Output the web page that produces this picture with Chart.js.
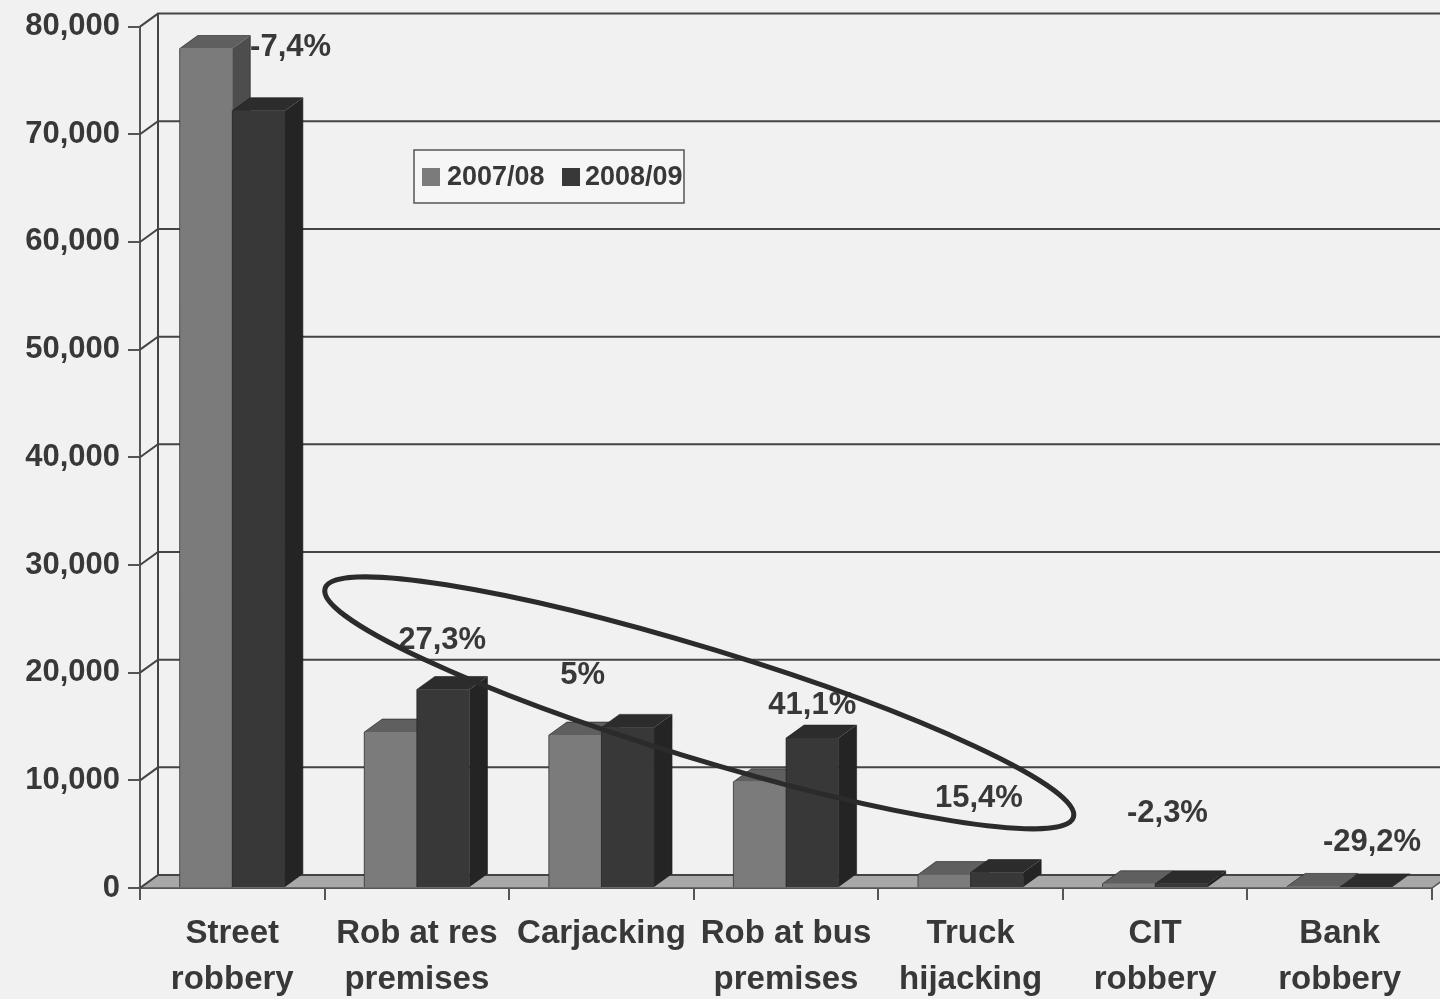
<!DOCTYPE html>
<html><head><meta charset="utf-8">
<script src="https://cdn.jsdelivr.net/npm/chart.js@4.4.1/dist/chart.umd.min.js"></script>
<style>html,body{margin:0;padding:0;background:#f1f1f1;overflow:hidden}#wrap{width:1440px;height:999px;position:relative}</style>
</head><body><div id="wrap"><canvas id="c" width="1440" height="999"></canvas></div>
<script>
// ---- data ----
const categories = [['Street','robbery'],['Rob at res','premises'],['Carjacking'],['Rob at bus','premises'],['Truck','hijacking'],['CIT','robbery'],['Bank','robbery']];
const seriesNames = ['2007/08','2008/09'];
const series2007 = [77962, 14481, 14201, 9862, 1245, 395, 144];
const series2008 = [72194, 18438, 14915, 13920, 1437, 386, 102];
const changeLabels = ['-7,4%','27,3%','5%','41,1%','15,4%','-2,3%','-29,2%'];
const yMin = 0, yMax = 80000, yStep = 10000;

// ---- style ----
const FONT = "'Liberation Sans', Arial, sans-serif";
const TEXT = '#383838';
const DX = 18, DY = -13;
const faces = [
  {front:'#7b7b7b', top:'#5f5f5f', side:'#4d4d4d'},
  {front:'#383838', top:'#2c2c2c', side:'#242424'}
];
// label offsets relative to the 2008/09 bar top-centre (px)
const labelOffsets = [[32,-63],[-1,-49],[-45,-52],[0,-33],[-18,-74],[-14,-70],[6,-44]];

const scene = {
  id:'scene',
  beforeDraw(chart){
    const c = chart.ctx;
    c.save(); c.fillStyle = '#f1f1f1'; c.fillRect(0,0,chart.width,chart.height); c.restore();
  },
  beforeDatasetsDraw(chart){
    const c = chart.ctx, a = chart.chartArea, y = chart.scales.y;
    c.save();
    // floor
    c.fillStyle = '#a8a8a8';
    c.beginPath();
    c.moveTo(a.left, a.bottom); c.lineTo(a.right, a.bottom);
    c.lineTo(a.right+DX, a.bottom+DY); c.lineTo(a.left+DX, a.bottom+DY); c.closePath();
    c.fill();
    c.strokeStyle = '#555'; c.lineWidth = 1.5; c.stroke();
    // gridlines on back wall + left wall diagonals
    c.strokeStyle = '#444'; c.lineWidth = 2;
    for (let v = yMin; v <= yMax; v += yStep) {
      const py = y.getPixelForValue(v);
      c.beginPath();
      c.moveTo(a.left, py); c.lineTo(a.left+DX, py+DY); c.lineTo(chart.width+5, py+DY);
      c.stroke();
    }
    // back wall left edge
    c.beginPath();
    c.moveTo(a.left+DX, y.getPixelForValue(yMax)+DY); c.lineTo(a.left+DX, a.bottom+DY);
    c.stroke();
    c.restore();
  },
  afterDatasetsDraw(chart){
    const c = chart.ctx;
    c.save();
    [0,1].forEach(di => {
      const meta = chart.getDatasetMeta(di), f = faces[di];
      meta.data.forEach(el => {
        const l = el.x - el.width/2, r = el.x + el.width/2, t = el.y, b = el.base;
        c.fillStyle = f.front; c.fillRect(l, t, r-l, b-t);
        c.fillStyle = f.top;
        c.beginPath(); c.moveTo(l,t); c.lineTo(l+DX,t+DY); c.lineTo(r+DX,t+DY); c.lineTo(r,t); c.closePath(); c.fill();
        c.fillStyle = f.side;
        c.beginPath(); c.moveTo(r,t); c.lineTo(r+DX,t+DY); c.lineTo(r+DX,b+DY); c.lineTo(r,b); c.closePath(); c.fill();
        c.strokeStyle = 'rgba(30,30,30,0.6)'; c.lineWidth = 1;
        c.beginPath(); c.moveTo(l,b); c.lineTo(l,t); c.lineTo(l+DX,t+DY); c.lineTo(r+DX,t+DY); c.lineTo(r+DX,b+DY); c.stroke();
      });
    });
    c.restore();
  },
  afterDraw(chart){
    const c = chart.ctx, x = chart.scales.x, y = chart.scales.y;
    c.save();
    // percent-change labels
    const m2 = chart.getDatasetMeta(1);
    c.font = `bold 31px ${FONT}`; c.fillStyle = TEXT; c.textAlign = 'center'; c.textBaseline = 'middle';
    changeLabels.forEach((t,i) => {
      const el = m2.data[i];
      c.fillText(t, el.x + labelOffsets[i][0], el.y + labelOffsets[i][1]);
    });
    // ellipse highlighting the rising categories
    const cx = x.getPixelForValue(2.53), cy = y.getPixelForValue(17200);
    const catW = x.getPixelForValue(1) - x.getPixelForValue(0);
    c.strokeStyle = '#2b2b2b'; c.lineWidth = 5;
    c.beginPath(); c.ellipse(cx, cy, catW*2.12, 55, 17*Math.PI/180, 0, Math.PI*2); c.stroke();
    // legend
    const lx = 414, ly = 150, lw = 270, lh = 53;
    c.fillStyle = '#f6f6f6'; c.fillRect(lx, ly, lw, lh);
    c.strokeStyle = '#555'; c.lineWidth = 1.5; c.strokeRect(lx, ly, lw, lh);
    c.font = `bold 27px ${FONT}`; c.textAlign = 'left'; c.textBaseline = 'middle';
    const items = [[422,447],[562,585]];
    seriesNames.forEach((n,i) => {
      c.fillStyle = faces[i].front; c.fillRect(items[i][0], ly+18, 18, 18);
      c.fillStyle = TEXT; c.fillText(n, items[i][1], ly+lh/2+1);
    });
    c.restore();
  }
};

new Chart(document.getElementById('c'), {
  type:'bar',
  data:{
    labels:categories,
    datasets:[
      {label:seriesNames[0], data:series2007, backgroundColor:faces[0].front},
      {label:seriesNames[1], data:series2008, backgroundColor:faces[1].front}
    ]
  },
  options:{
    responsive:false, animation:false, events:[],
    layout:{padding:{top:24, right:8, left:0, bottom:0}},
    datasets:{bar:{categoryPercentage:0.57, barPercentage:1, borderWidth:0}},
    scales:{
      x:{
        grid:{offset:true, drawOnChartArea:false, drawTicks:true, tickLength:12, color:'#555', lineWidth:2},
        border:{display:true, color:'#555', width:2},
        ticks:{font:{family:FONT, size:33, weight:'bold', lineHeight:1.4}, color:TEXT, padding:11, maxRotation:0, autoSkip:false},
        afterFit:s=>{ s.height = 111; }
      },
      y:{
        min:yMin, max:yMax,
        grid:{drawOnChartArea:false, tickLength:12, color:'#555', lineWidth:2},
        border:{display:true, color:'#555', width:2},
        ticks:{stepSize:yStep, font:{family:FONT, size:31, weight:'bold'}, color:TEXT, padding:8,
               callback:v=>v.toLocaleString('en-US')},
        afterFit:s=>{ s.width = 140; }
      }
    },
    plugins:{legend:{display:false}, tooltip:{enabled:false}}
  },
  plugins:[scene]
});
</script></body></html>
